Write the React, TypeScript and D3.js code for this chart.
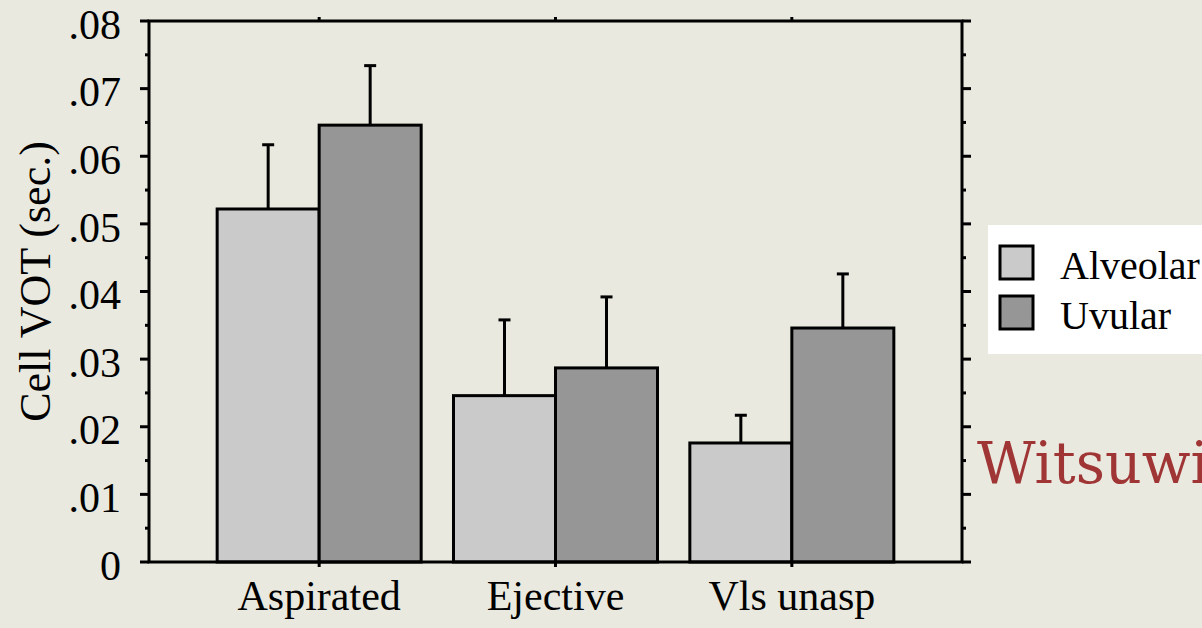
import React, { useEffect } from "react";
import * as d3 from "d3";

const categories = ["Aspirated", "Ejective", "Vls unasp"];
const seriesNames = ["Alveolar", "Uvular"];
const alveolarMeans = [0.0522, 0.0246, 0.0176];
const alveolarErr = [0.0617, 0.0358, 0.0217];
const uvularMeans = [0.0646, 0.0287, 0.0346];
const uvularErr = [0.0734, 0.0392, 0.0426];
const yTicks = [0, 0.01, 0.02, 0.03, 0.04, 0.05, 0.06, 0.07, 0.08];
const yTickLabels = ["0", ".01", ".02", ".03", ".04", ".05", ".06", ".07", ".08"];
const yMinorTicks = [0.005, 0.015, 0.025, 0.035, 0.045, 0.055, 0.065, 0.075];
const seriesColors = ["#cacaca", "#969696"];

const W = 1202;
const H = 628;
const left = 149, right = 962, top = 21, bottom = 562;
const FONT = "'Liberation Serif', 'Times New Roman', serif";

export default function App() {
  useEffect(() => {
    document.body.style.margin = "0";
  }, []);

  const x = d3.scalePoint<string>().domain(categories).range([left, right]).padding(0.72);
  const y = d3.scaleLinear().domain([0, 0.08]).range([bottom, top]);
  const barW = 102;
  const capHalf = 6;

  const series = [
    { name: seriesNames[0], means: alveolarMeans, errs: alveolarErr, color: seriesColors[0] },
    { name: seriesNames[1], means: uvularMeans, errs: uvularErr, color: seriesColors[1] },
  ];

  return (
    <svg width={W} height={H} style={{ display: "block", background: "#e9e9df" }}>
      <rect x={0} y={0} width={W} height={H} fill="#e9e9df" />
      {series.map((s, si) =>
        categories.map((c, ci) => {
          const cx = x(c)!;
          const x0 = si === 0 ? cx - barW : cx;
          const bx = x0 + barW / 2;
          return (
            <g key={s.name + c}>
              <line x1={bx} x2={bx} y1={y(s.means[ci])} y2={y(s.errs[ci])} stroke="#000" strokeWidth={3} />
              <line x1={bx - capHalf} x2={bx + capHalf} y1={y(s.errs[ci])} y2={y(s.errs[ci])} stroke="#000" strokeWidth={3} />
              <rect x={x0} y={y(s.means[ci])} width={barW} height={y(0) - y(s.means[ci])} fill={s.color} stroke="#000" strokeWidth={3} />
            </g>
          );
        })
      )}
      <rect x={left} y={top} width={right - left} height={bottom - top} fill="none" stroke="#000" strokeWidth={3} />
      {yTicks.map((t, i) => (
        <g key={"lt" + i}>
          <line x1={left - 9} x2={left} y1={y(t)} y2={y(t)} stroke="#000" strokeWidth={3} />
          <line x1={right} x2={right + 9} y1={y(t)} y2={y(t)} stroke="#000" strokeWidth={3} />
          <text x={121} y={y(t)} dy="0.42em" textAnchor="end" fontFamily={FONT} fontSize={42} fill="#000">
            {yTickLabels[i]}
          </text>
        </g>
      ))}
      {yMinorTicks.map((t, i) => (
        <g key={"mt" + i}>
          <line x1={left - 4} x2={left} y1={y(t)} y2={y(t)} stroke="#000" strokeWidth={3} />
          <line x1={right} x2={right + 4} y1={y(t)} y2={y(t)} stroke="#000" strokeWidth={3} />
        </g>
      ))}
      {categories.map((c) => (
        <g key={"c" + c}>
          <line x1={x(c)!} x2={x(c)!} y1={bottom} y2={bottom + 5} stroke="#000" strokeWidth={3} />
          <line x1={x(c)!} x2={x(c)!} y1={top} y2={top - 4} stroke="#000" strokeWidth={3} />
          <text x={x(c)!} y={610} textAnchor="middle" fontFamily={FONT} fontSize={42} fill="#000">
            {c}
          </text>
        </g>
      ))}
      <text
        transform={`translate(50, ${(425 + 138) / 2}) rotate(-90)`}
        textAnchor="middle"
        fontFamily={FONT}
        fontSize={44}
        fill="#000"
      >
        Cell VOT (sec.)
      </text>
      <rect x={988} y={225} width={230} height={129} fill="#ffffff" />
      {series.map((s, i) => (
        <g key={"lg" + i}>
          <rect x={1000} y={246 + i * 50} width={33} height={33} fill={s.color} stroke="#000" strokeWidth={3} />
          <text x={1060} y={279 + i * 50} fontFamily={FONT} fontSize={40} fill="#000">
            {s.name}
          </text>
        </g>
      ))}
      <text x={977} y={483} fontFamily="'DejaVu Serif', serif" fontSize={57} fill="#a03535">
        Witsuwit'en
      </text>
    </svg>
  );
}
